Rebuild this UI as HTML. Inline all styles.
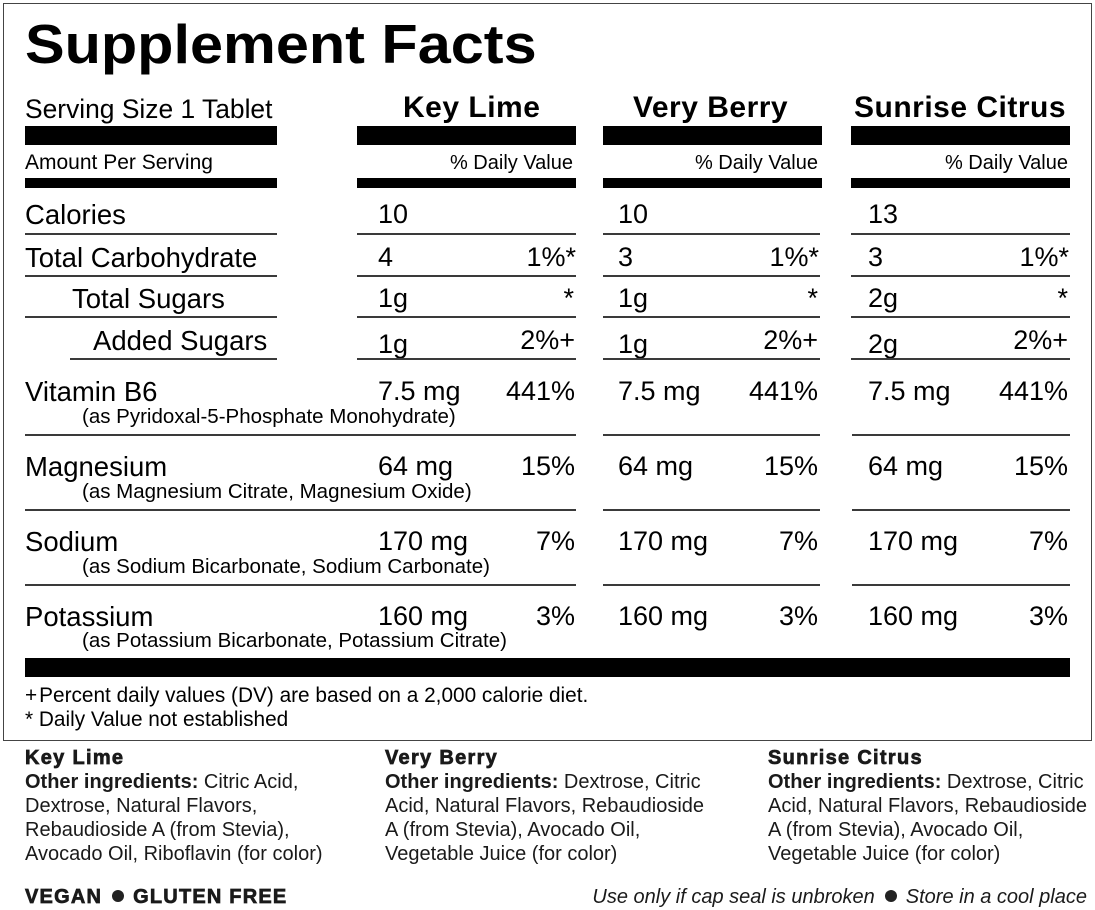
<!DOCTYPE html>
<html><head><meta charset="utf-8"><style>
*{margin:0;padding:0;box-sizing:border-box}
html,body{width:1095px;height:910px;background:#fff;overflow:hidden}
body{position:relative;font-family:"Liberation Sans",Arial,sans-serif;color:#000}
.t{position:absolute;white-space:nowrap}
.b{position:absolute;background:#000}
.ln{position:absolute;height:2px;background:#3a3a3a}
.r27{font-size:27px;line-height:27px}
.lb{font-size:27.5px;line-height:27px}
.s20{font-size:20.5px;line-height:20.5px}
.h30{font-size:30px;line-height:30px;font-weight:bold;letter-spacing:0.5px}
.dot{display:inline-block;width:12px;height:12px;border-radius:50%;background:#222;vertical-align:1px}
.col{position:absolute;top:746px;font-size:20px;line-height:24px;color:#1a1a1a;white-space:nowrap}
.col b.hd{letter-spacing:1.3px;-webkit-text-stroke:0.7px #1a1a1a}
</style></head><body>
<div style="position:absolute;left:3px;top:3px;width:1089px;height:738px;border:1px solid #444"></div>

<div class="t" style="left:25px;top:17px;font-size:55px;line-height:55px;font-weight:bold;transform:scaleX(1.08);transform-origin:0 0">Supplement Facts</div>

<div class="t" style="left:25px;top:96px;font-size:26.4px;line-height:26px">Serving Size 1 Tablet</div>
<div class="t h30" style="left:403px;top:93px">Key Lime</div>
<div class="t h30" style="left:633px;top:93px">Very Berry</div>
<div class="t h30" style="left:854px;top:93px">Sunrise Citrus</div>

<div class="b" style="left:25px;top:126px;width:252px;height:19px"></div>
<div class="b" style="left:357px;top:126px;width:219px;height:19px"></div>
<div class="b" style="left:603px;top:126px;width:219px;height:19px"></div>
<div class="b" style="left:851px;top:126px;width:219px;height:19px"></div>

<div class="t" style="left:25px;top:152px;font-size:21px;line-height:21px">Amount Per Serving</div>
<div class="t" style="right:522px;top:153px;font-size:20px;line-height:20px">% Daily Value</div>
<div class="t" style="right:277px;top:153px;font-size:20px;line-height:20px">% Daily Value</div>
<div class="t" style="right:27px;top:153px;font-size:20px;line-height:20px">% Daily Value</div>

<div class="b" style="left:25px;top:178px;width:252px;height:10px"></div>
<div class="b" style="left:357px;top:178px;width:219px;height:10px"></div>
<div class="b" style="left:603px;top:178px;width:219px;height:10px"></div>
<div class="b" style="left:851px;top:178px;width:219px;height:10px"></div>

<!-- Calories -->
<div class="t lb" style="left:25px;top:201px">Calories</div>
<div class="t r27" style="left:378px;top:201px">10</div>
<div class="t r27" style="left:618px;top:201px">10</div>
<div class="t r27" style="left:868px;top:201px">13</div>
<div class="ln" style="left:25px;top:233px;width:252px"></div>
<div class="ln" style="left:357px;top:233px;width:219px"></div>
<div class="ln" style="left:603px;top:233px;width:217px"></div>
<div class="ln" style="left:851px;top:233px;width:219px"></div>

<!-- Total Carbohydrate -->
<div class="t lb" style="left:25px;top:244px">Total Carbohydrate</div>
<div class="t r27" style="left:378px;top:244px">4</div>
<div class="t r27" style="right:519px;top:244px">1%*</div>
<div class="t r27" style="left:618px;top:244px">3</div>
<div class="t r27" style="right:276px;top:244px">1%*</div>
<div class="t r27" style="left:868px;top:244px">3</div>
<div class="t r27" style="right:26px;top:244px">1%*</div>
<div class="ln" style="left:25px;top:275px;width:252px"></div>
<div class="ln" style="left:357px;top:275px;width:219px"></div>
<div class="ln" style="left:603px;top:275px;width:217px"></div>
<div class="ln" style="left:851px;top:275px;width:219px"></div>

<!-- Total Sugars -->
<div class="t lb" style="left:72px;top:285px">Total Sugars</div>
<div class="t r27" style="left:378px;top:285px">1g</div>
<div class="t r27" style="right:521px;top:285px">*</div>
<div class="t r27" style="left:618px;top:285px">1g</div>
<div class="t r27" style="right:277px;top:285px">*</div>
<div class="t r27" style="left:868px;top:285px">2g</div>
<div class="t r27" style="right:27px;top:285px">*</div>
<div class="ln" style="left:25px;top:316px;width:252px"></div>
<div class="ln" style="left:357px;top:316px;width:219px"></div>
<div class="ln" style="left:603px;top:316px;width:217px"></div>
<div class="ln" style="left:851px;top:316px;width:219px"></div>

<!-- Added Sugars -->
<div class="t lb" style="left:93px;top:327px">Added Sugars</div>
<div class="t r27" style="left:378px;top:331px">1g</div>
<div class="t r27" style="right:520px;top:327px">2%+</div>
<div class="t r27" style="left:618px;top:331px">1g</div>
<div class="t r27" style="right:277px;top:327px">2%+</div>
<div class="t r27" style="left:868px;top:331px">2g</div>
<div class="t r27" style="right:27px;top:327px">2%+</div>
<div class="ln" style="left:70px;top:358px;width:207px"></div>
<div class="ln" style="left:357px;top:358px;width:219px"></div>
<div class="ln" style="left:603px;top:358px;width:217px"></div>
<div class="ln" style="left:851px;top:358px;width:219px"></div>

<!-- Vitamin B6 -->
<div class="t lb" style="left:25px;top:378px">Vitamin B6</div>
<div class="t s20" style="left:82px;top:407px">(as Pyridoxal-5-Phosphate Monohydrate)</div>
<div class="t r27" style="left:378px;top:378px">7.5 mg</div>
<div class="t r27" style="right:520px;top:378px">441%</div>
<div class="t r27" style="left:618px;top:378px">7.5 mg</div>
<div class="t r27" style="right:277px;top:378px">441%</div>
<div class="t r27" style="left:868px;top:378px">7.5 mg</div>
<div class="t r27" style="right:27px;top:378px">441%</div>
<div class="ln" style="left:25px;top:434px;width:551px"></div>
<div class="ln" style="left:603px;top:434px;width:217px"></div>
<div class="ln" style="left:852px;top:434px;width:218px"></div>

<!-- Magnesium -->
<div class="t lb" style="left:25px;top:453px">Magnesium</div>
<div class="t s20" style="left:82px;top:482px">(as Magnesium Citrate, Magnesium Oxide)</div>
<div class="t r27" style="left:378px;top:453px">64 mg</div>
<div class="t r27" style="right:520px;top:453px">15%</div>
<div class="t r27" style="left:618px;top:453px">64 mg</div>
<div class="t r27" style="right:277px;top:453px">15%</div>
<div class="t r27" style="left:868px;top:453px">64 mg</div>
<div class="t r27" style="right:27px;top:453px">15%</div>
<div class="ln" style="left:25px;top:509px;width:551px"></div>
<div class="ln" style="left:603px;top:509px;width:217px"></div>
<div class="ln" style="left:852px;top:509px;width:218px"></div>

<!-- Sodium -->
<div class="t lb" style="left:25px;top:528px">Sodium</div>
<div class="t s20" style="left:82px;top:557px">(as Sodium Bicarbonate, Sodium Carbonate)</div>
<div class="t r27" style="left:378px;top:528px">170 mg</div>
<div class="t r27" style="right:520px;top:528px">7%</div>
<div class="t r27" style="left:618px;top:528px">170 mg</div>
<div class="t r27" style="right:277px;top:528px">7%</div>
<div class="t r27" style="left:868px;top:528px">170 mg</div>
<div class="t r27" style="right:27px;top:528px">7%</div>
<div class="ln" style="left:25px;top:584px;width:551px"></div>
<div class="ln" style="left:603px;top:584px;width:217px"></div>
<div class="ln" style="left:852px;top:584px;width:218px"></div>

<!-- Potassium -->
<div class="t lb" style="left:25px;top:603px">Potassium</div>
<div class="t s20" style="left:82px;top:631px">(as Potassium Bicarbonate, Potassium Citrate)</div>
<div class="t r27" style="left:378px;top:603px">160 mg</div>
<div class="t r27" style="right:520px;top:603px">3%</div>
<div class="t r27" style="left:618px;top:603px">160 mg</div>
<div class="t r27" style="right:277px;top:603px">3%</div>
<div class="t r27" style="left:868px;top:603px">160 mg</div>
<div class="t r27" style="right:27px;top:603px">3%</div>

<div class="b" style="left:25px;top:658px;width:1045px;height:19px"></div>

<div class="t" style="left:25px;top:686px;font-size:20.8px;line-height:20.7px"><span style="margin-right:2px">+</span>Percent daily values (DV) are based on a 2,000 calorie diet.</div>
<div class="t" style="left:25px;top:710px;font-size:20.8px;line-height:20.7px">* Daily Value not established</div>

<div class="col" style="left:25px"><b class="hd">Key Lime</b><br><b>Other ingredients:</b> Citric Acid,<br>Dextrose, Natural Flavors,<br>Rebaudioside A (from Stevia),<br>Avocado Oil, Riboflavin (for color)</div>
<div class="col" style="left:385px"><b class="hd">Very Berry</b><br><b>Other ingredients:</b> Dextrose, Citric<br>Acid, Natural Flavors, Rebaudioside<br>A (from Stevia), Avocado Oil,<br>Vegetable Juice (for color)</div>
<div class="col" style="left:768px"><b class="hd">Sunrise Citrus</b><br><b>Other ingredients:</b> Dextrose, Citric<br>Acid, Natural Flavors, Rebaudioside<br>A (from Stevia), Avocado Oil,<br>Vegetable Juice (for color)</div>

<div class="t" style="left:25px;top:887px;font-size:20px;line-height:20px;font-weight:bold;letter-spacing:1.2px;color:#1a1a1a;-webkit-text-stroke:0.7px #1a1a1a">VEGAN<span class="dot" style="margin:0 9px 0 10px"></span>GLUTEN FREE</div>
<div class="t" style="right:8px;top:887px;font-size:20px;line-height:20px;font-style:italic;color:#1a1a1a">Use only if cap seal is unbroken<span class="dot" style="margin:0 9px 0 10px"></span>Store in a cool place</div>
</body></html>
